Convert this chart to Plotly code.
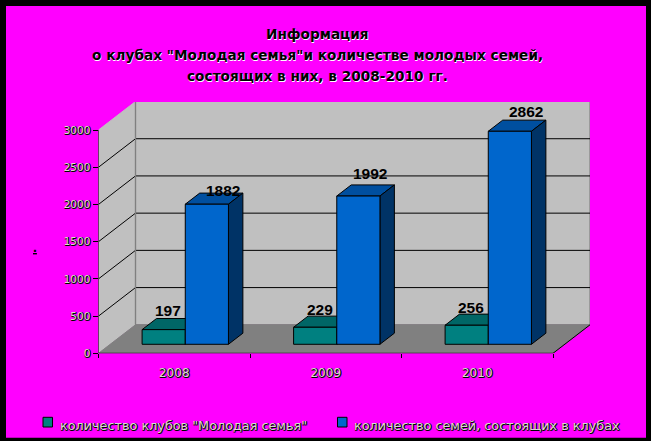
import plotly.graph_objects as go

# ---- data ----
years = ["2008", "2009", "2010"]
clubs = [197, 229, 256]
families = [1882, 1992, 2862]
y_ticks = [0, 500, 1000, 1500, 2000, 2500, 3000]
title_lines = ["Информация",
               "о клубах \"Молодая семья\"и количестве молодых семей,",
               "состоящих в них, в 2008-2010 гг."]
legend_names = ["количество клубов \"Молодая семья\"",
                "количество семей, состоящих в клубах"]

# ---- layout geometry ----
W, H = 651, 441
PX_L, PX_R, PX_T, PX_B = 98.5, 590.0, 102.0, 353.3   # plot box in pixels
PX_CAT = 151.5
PX_UNIT = 223.3 / 3000
DX = 37.0 / PX_CAT        # full depth, in category units
DY = 28.5 / PX_UNIT       # full depth, in value units
X_RANGE = [0, 3 + DX]
Y_RANGE = [0, (PX_B - PX_T) / PX_UNIT]
FRONT, BACK = 0.316, 0.706   # bar depth position (fraction of the floor depth)
GAP, BAR_W = 0.2106, 0.285

C_WALL, C_FLOOR, C_EDGE = "#C0C0C0", "#808080", "#808080"
C_GREEN = ("#008080", "#006666", "#006666")   # front, top, side
C_BLUE = ("#0066CC", "#004F9F", "#003366")
BG = "#FF00FF"
TITLE_FONT = dict(family="DejaVu Sans", size=13.7, color="#000000", weight="bold",
                  shadow="0.6px 0.6px 0 #ffffff")
TEXT_PALE = "#d8d8d8"
TICK_SHADOW = "1px 0 0 #000000, 0 1px 0 #000000, 1px 1px 0 #333333"
LABEL_SHIFT_PX = [(4, 19), (16, 13.5), (5, 17.3), (12, 23), (4.5, 17.5), (16, 19.6)]

fig = go.Figure()


def poly(xs, ys, fill, line="#000000", width=1):
    fig.add_trace(go.Scatter(
        x=list(xs) + [xs[0]], y=list(ys) + [ys[0]], mode="lines", fill="toself",
        fillcolor=fill, line=dict(color=line, width=width), hoverinfo="skip",
        showlegend=False, cliponaxis=False))


def lines(xs, ys, color="#000000", width=1):
    fig.add_trace(go.Scatter(x=xs, y=ys, mode="lines",
                             line=dict(color=color, width=width), hoverinfo="skip",
                             showlegend=False, cliponaxis=False))


top = y_ticks[-1]
# side wall, back wall, floor
poly([0, 0, DX, DX], [0, top, top + DY, DY], C_WALL, C_WALL)
poly([DX, DX, 3 + DX, 3 + DX], [DY, top + DY, top + DY, DY], C_WALL, C_EDGE, 1.2)
poly([0, 3, 3 + DX, DX], [0, 0, DY, DY], C_FLOOR, C_FLOOR)

# grid lines across both walls
gx, gy = [], []
for t in y_ticks[1:-1]:
    gx += [0, DX, 3 + DX, None]
    gy += [t, t + DY, t + DY, None]
lines(gx, gy)
lines([DX, DX], [DY, top + DY], C_EDGE, 1.2)

# axis lines
lines([0, 0, 3, 3 + DX], [top, 0, 0, DY])


def box(x0, w, value, colors):
    fx, fy = FRONT * DX, FRONT * DY
    bx, by = BACK * DX, BACK * DY
    xl, xr = x0 + fx, x0 + fx + w
    xbl, xbr = x0 + bx, x0 + bx + w
    y0, y1 = fy, fy + value
    yb0, yb1 = by, by + value
    poly([xl, xbl, xbr, xr], [y1, yb1, yb1, y1], colors[1])     # top
    poly([xr, xbr, xbr, xr], [y0, yb0, yb1, y1], colors[2])     # side
    poly([xl, xl, xr, xr], [y0, y1, y1, y0], colors[0])         # front


annots = []
for i in range(len(years)):
    g0 = i + GAP
    b0 = g0 + BAR_W
    box(g0, BAR_W, clubs[i], C_GREEN)
    box(b0, BAR_W, families[i], C_BLUE)
    for j, (x0, v) in enumerate(((g0, clubs[i]), (b0, families[i]))):
        sx, sy = LABEL_SHIFT_PX[i * 2 + j]
        annots.append(dict(
            x=x0 + FRONT * DX + BAR_W / 2, y=FRONT * DY + v, xref="x", yref="y",
            text=str(v), showarrow=False, xshift=sx, yshift=sy,
            xanchor="center", yanchor="middle",
            font=dict(family="Liberation Sans", size=15.5, color="#000000", weight="bold")))

# title
for line, py in zip(title_lines, (34, 55, 76)):
    annots.append(dict(x=317 / W, y=1 - py / H, xref="paper", yref="paper", text=line,
                       showarrow=False, xanchor="center", yanchor="middle", font=TITLE_FONT))

# small axis-title mark
annots.append(dict(x=35 / W, y=1 - 247 / H, xref="paper", yref="paper", text="<u>.</u>",
                   showarrow=False, xanchor="center", yanchor="middle",
                   font=dict(family="Liberation Sans", size=14, color="#000000", weight="bold")))

# legend
shapes = [dict(type="rect", xref="paper", yref="paper", x0=6 / W, x1=646 / W,
               y0=1 - 437.7 / H, y1=1 - 6 / H, fillcolor=BG, line_width=0, layer="below")]
for name, sw, tx, col in zip(legend_names, (43, 337.5), (57.5, 351.5), (C_GREEN[0], C_BLUE[0])):
    shapes.append(dict(type="rect", xref="paper", yref="paper", x0=sw / W, x1=(sw + 9.5) / W,
                       y0=1 - 427 / H, y1=1 - 417.3 / H, fillcolor=col,
                       line=dict(color="#000000", width=1), layer="above"))
    annots.append(dict(x=tx / W, y=1 - 425 / H, xref="paper", yref="paper", text=name,
                       showarrow=False, xanchor="left", yanchor="middle",
                       font=dict(family="DejaVu Sans", size=12.8, color=TEXT_PALE, shadow=TICK_SHADOW)))

fig.update_layout(
    width=W, height=H, margin=dict(l=0, r=0, t=0, b=0, autoexpand=False),
    paper_bgcolor="#000000", plot_bgcolor="rgba(0,0,0,0)", showlegend=False,
    shapes=shapes, annotations=annots,
    xaxis=dict(domain=[PX_L / W, PX_R / W], range=X_RANGE, showgrid=False, zeroline=False,
               tickmode="array", tickvals=[0.5, 1.5, 2.5], ticktext=years,
               ticks="", ticklen=0, ticklabelstandoff=11,
               tickfont=dict(family="DejaVu Sans", size=12, color=TEXT_PALE, shadow=TICK_SHADOW),
               minor=dict(tickmode="array", tickvals=[0, 1, 2, 3], ticks="outside", ticklen=4,
                          tickcolor="#000000", tickwidth=1, showgrid=False)),
    yaxis=dict(domain=[1 - PX_B / H, 1 - PX_T / H], range=Y_RANGE, showgrid=False, zeroline=False,
               tickmode="array", tickvals=y_ticks, ticks="outside", ticklen=5,
               tickcolor="#000000", tickwidth=1,
               tickfont=dict(family="DejaVu Sans", size=10.5, color=TEXT_PALE, shadow=TICK_SHADOW)),
)

fig.write_html("out.html", config={"displayModeBar": False},
               post_script="document.body.style.margin='0';document.body.style.overflow='hidden';")
